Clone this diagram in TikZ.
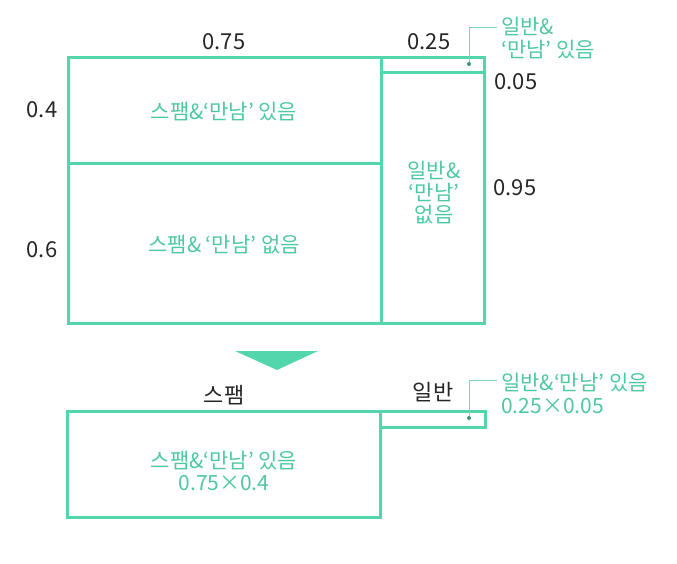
\documentclass[tikz,border=0pt]{standalone}
\usepackage{fontspec}
\setmainfont{Noto Sans CJK KR}
\definecolor{boxgreen}{RGB}{84,214,172}
\definecolor{txtgreen}{RGB}{78,200,160}
\definecolor{leadgreen}{RGB}{120,215,185}
\begin{document}
\begin{tikzpicture}[x=1pt,y=-1pt,
  box/.style={draw=boxgreen,line width=3pt,inner sep=0pt},
  num/.style={font=\fontsize{22}{24}\selectfont,text=black!85,inner sep=0pt},
  gtxt/.style={font=\fontsize{21}{22}\selectfont,text=txtgreen,inner sep=0pt,align=center},
  lbl/.style={font=\fontsize{21}{23}\selectfont,text=txtgreen,inner sep=0pt,align=left,anchor=west},
  dotmark/.style={circle,fill=boxgreen!70!black,inner sep=0pt,minimum size=4pt},
  leader/.style={draw=leadgreen,line width=0.8pt}]
\useasboundingbox (0,0) rectangle (677,563);
% top figure
\node[box,minimum width=313pt,minimum height=106pt] (spamyes) at (224.5,110) {};
\node[box,minimum width=313pt,minimum height=160pt] (spamno) at (224.5,243) {};
\node[box,minimum width=103pt,minimum height=15pt] (genyes) at (432.5,64.5) {};
\node[box,minimum width=103pt,minimum height=251pt] (genno) at (432.5,197.5) {};
\node[gtxt] (t1) at (224,112) {스팸\&‘만남’ 있음};
\node[gtxt] (t2) at (224,245) {스팸\& ‘만남’ 없음};
\node[gtxt] (t3) at (434,193) {일반\&\\‘만남’\\없음};
\node[num] (n075) at (224,42) {0.75};
\node[num] (n025) at (429,42) {0.25};
\node[num] (n005) at (516,82) {0.05};
\node[num] (n095) at (515,188) {0.95};
\node[num] (n04) at (42,110) {0.4};
\node[num] (n06) at (42,250) {0.6};
\node[dotmark] (d1) at (469,64) {};
\coordinate (e1) at (497,27);
\node[lbl] (l1) at (501,38.5) {일반\&\\‘만남’ 있음};
\draw[leader] (d1) |- (e1);
% arrow
\fill[boxgreen] (235,351) -- (318,351) -- (277,370) -- cycle;
% bottom figure
\node[box,minimum width=313pt,minimum height=106pt] (spambig) at (223.5,464) {};
\node[box,minimum width=105pt,minimum height=16pt] (genstrip) at (432.5,419) {};
\node[num] (s1) at (224,395) {스팸};
\node[num] (s2) at (433,392) {일반};
\node[gtxt] (t4) at (224,471) {스팸\&‘만남’ 있음\\0.75×0.4};
\node[dotmark] (d2) at (469,418) {};
\coordinate (e2) at (497,380);
\node[lbl] (l2) at (501,393) {일반\&‘만남’ 있음\\0.25×0.05};
\draw[leader] (d2) |- (e2);
\end{tikzpicture}
\end{document}
